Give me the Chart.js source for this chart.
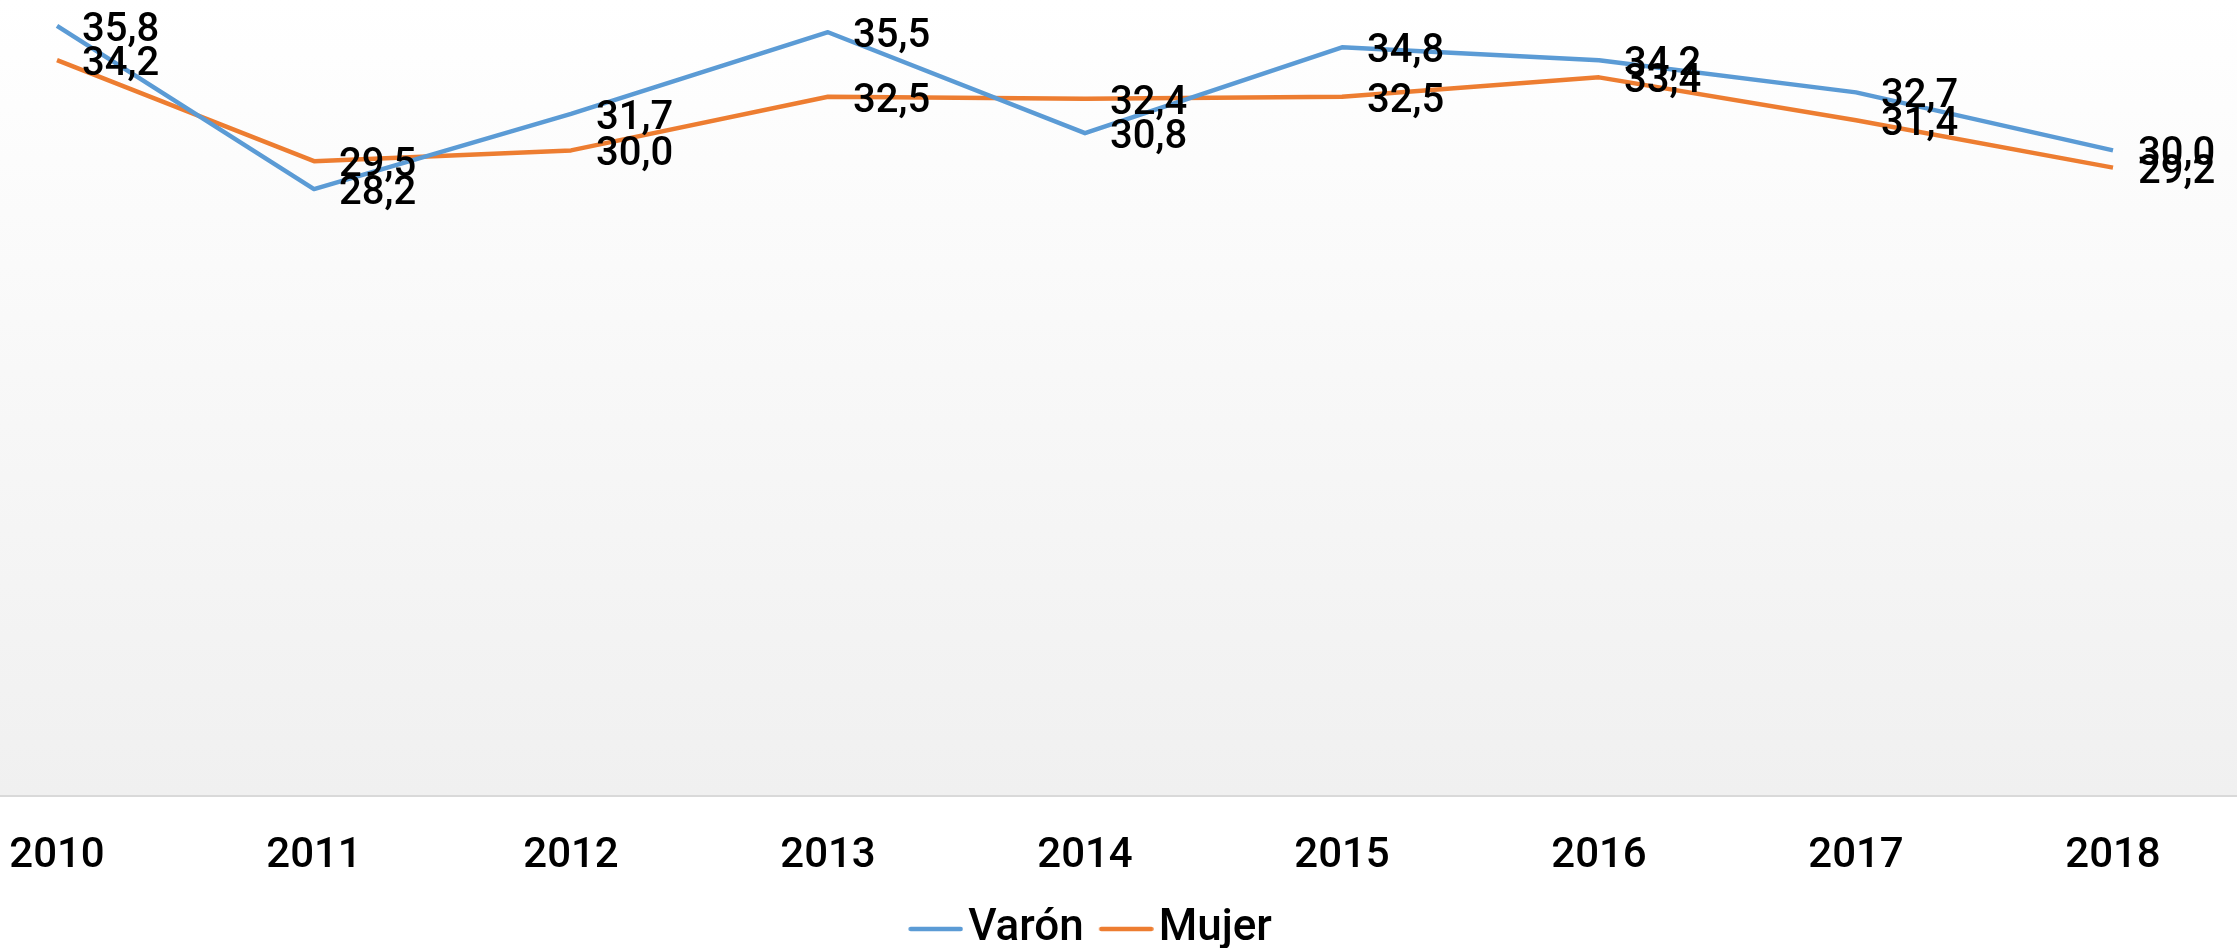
<!DOCTYPE html>
<html>
<head>
<meta charset="utf-8">
<script src="https://cdn.jsdelivr.net/npm/chart.js@4"></script>
<style>
  html, body { margin: 0; padding: 0; background: #fff; }
  #wrap { width: 2237px; height: 948px; position: relative; }
</style>
</head>
<body>
<div id="wrap"><canvas id="chart"></canvas></div>
<script>
const years = ['2010', '2011', '2012', '2013', '2014', '2015', '2016', '2017', '2018'];
const varon = [35.8, 28.2, 31.7, 35.5, 30.8, 34.8, 34.2, 32.7, 30.0];
const mujer = [34.2, 29.5, 30.0, 32.5, 32.4, 32.5, 33.4, 31.4, 29.2];
const yMax = 37;

const FONT = 'Roboto, "DejaVu Sans Condensed", sans-serif';
const BLUE = '#5b9bd5';
const ORANGE = '#ed7d31';

// legend swatch: the line sits at the right end of the image so it ends close to the text
function legendLine(color) {
  const c = document.createElement('canvas');
  c.width = 82;
  c.height = 8;
  const g = c.getContext('2d');
  g.strokeStyle = color;
  g.lineWidth = 4.5;
  g.lineCap = 'round';
  g.beginPath();
  g.moveTo(29.5, 4);
  g.lineTo(79.5, 4);
  g.stroke();
  return c;
}

const backdrop = {
  id: 'backdrop',
  beforeDraw(chart) {
    const { ctx, chartArea, width, height } = chart;
    ctx.save();
    ctx.fillStyle = '#ffffff';
    ctx.fillRect(0, 0, width, height);
    const grad = ctx.createLinearGradient(0, 0, 0, chartArea.bottom);
    grad.addColorStop(0, '#ffffff');
    grad.addColorStop(1, '#f0f0f0');
    ctx.fillStyle = grad;
    ctx.fillRect(0, 0, width, chartArea.bottom);
    ctx.strokeStyle = '#d9d9d9';
    ctx.lineWidth = 2;
    ctx.beginPath();
    ctx.moveTo(0, chartArea.bottom + 1);
    ctx.lineTo(width, chartArea.bottom + 1);
    ctx.stroke();
    ctx.restore();
  }
};

const valueLabels = {
  id: 'valueLabels',
  afterDatasetsDraw(chart) {
    const ctx = chart.ctx;
    ctx.save();
    ctx.font = '500 40px ' + FONT;
    ctx.fillStyle = '#000';
    ctx.textAlign = 'left';
    ctx.textBaseline = 'middle';
    chart.data.datasets.forEach((ds, i) => {
      chart.getDatasetMeta(i).data.forEach((pt, j) => {
        ctx.fillText(ds.data[j].toFixed(1).replace('.', ','), pt.x + 25, pt.y + 5);
      });
    });
    ctx.restore();
  }
};

new Chart(document.getElementById('chart'), {
  type: 'line',
  data: {
    labels: years,
    datasets: [
      {
        label: 'Varón',
        data: varon,
        borderColor: BLUE,
        backgroundColor: BLUE,
        borderWidth: 4.5,
        borderJoinStyle: 'round',
        pointRadius: 0,
        pointHoverRadius: 0,
        pointStyle: legendLine(BLUE),
        tension: 0
      },
      {
        label: 'Mujer',
        data: mujer,
        borderColor: ORANGE,
        backgroundColor: ORANGE,
        borderWidth: 4.5,
        borderJoinStyle: 'round',
        pointRadius: 0,
        pointHoverRadius: 0,
        pointStyle: legendLine(ORANGE),
        tension: 0
      }
    ]
  },
  options: {
    responsive: true,
    maintainAspectRatio: false,
    animation: false,
    layout: { padding: { left: 57, right: 124, top: 0, bottom: 0 } },
    scales: {
      x: {
        grid: { display: true, drawOnChartArea: false, drawTicks: true, tickLength: 15, color: 'rgba(0,0,0,0)' },
        border: { display: false },
        ticks: {
          color: '#000',
          font: { family: FONT, size: 42, weight: '500', lineHeight: '92px' },
          padding: 0,
          maxRotation: 0,
          autoSkip: false
        }
      },
      y: { display: false, min: 0, max: yMax }
    },
    plugins: {
      legend: {
        position: 'bottom',
        maxHeight: 46,
        labels: {
          usePointStyle: true,
          pointStyleWidth: 48,
          padding: 5,
          color: '#000',
          font: { family: FONT, size: 44, weight: '500' }
        }
      },
      tooltip: { enabled: false }
    }
  },
  plugins: [backdrop, valueLabels]
});
</script>
</body>
</html>
